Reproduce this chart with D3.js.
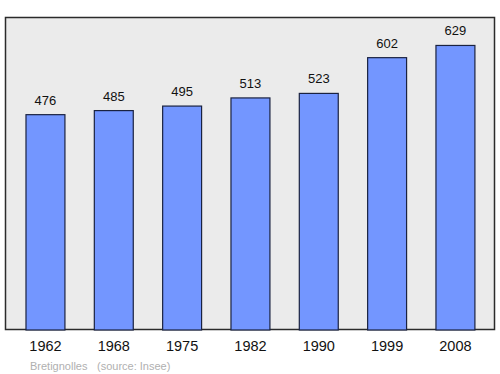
<!DOCTYPE html>
<html>
<head>
<meta charset="utf-8">
<script src="https://cdn.jsdelivr.net/npm/d3@7"></script>
<style>
  body { margin: 0; background: #fff; }
  text { font-family: "Liberation Sans", Arial, sans-serif; }
</style>
</head>
<body>
<div id="chart"></div>
<script>
var years = ["1962", "1968", "1975", "1982", "1990", "1999", "2008"];
var population = [476, 485, 495, 513, 523, 602, 629];
var townName = "Bretignolles";
var sourceNote = "(source: Insee)";

var width = 500, height = 374;

var svg = d3.select("#chart").append("svg")
    .attr("width", width)
    .attr("height", height);

// plot frame
svg.append("rect")
    .attr("x", 5.5)
    .attr("y", 17.5)
    .attr("width", 489)
    .attr("height", 312)
    .style("fill", "#ebebeb")
    .style("stroke", "#2b2b2b")
    .style("stroke-width", 1.5);

var x = d3.scaleBand()
    .domain(years)
    .range([11.3, 489.6])
    .paddingInner(0.43)
    .paddingOuter(0.215);

var y = d3.scaleLinear()
    .domain([0, d3.max(population) * 1.1])
    .range([330, 17]);

var data = years.map(function(d, i) { return { year: d, value: population[i] }; });

svg.selectAll(".bar")
    .data(data)
  .enter().append("rect")
    .attr("class", "bar")
    .attr("x", function(d) { return x(d.year); })
    .attr("y", function(d) { return y(d.value); })
    .attr("width", x.bandwidth())
    .attr("height", function(d) { return y(0) - y(d.value); })
    .style("fill", "#7396ff")
    .style("stroke", "#1a2240")
    .style("stroke-width", 1.2);

svg.selectAll(".val")
    .data(data)
  .enter().append("text")
    .attr("class", "val")
    .attr("x", function(d) { return x(d.year) + x.bandwidth() / 2; })
    .attr("y", function(d) { return y(d.value) - 10; })
    .attr("text-anchor", "middle")
    .style("font-size", "13px")
    .style("fill", "#111")
    .text(function(d) { return d.value; });

// year axis
var xAxis = svg.append("g")
    .attr("transform", "translate(0,330)")
    .call(d3.axisBottom(x).tickSize(0).tickPadding(11));
xAxis.select(".domain").remove();
xAxis.selectAll("text")
    .style("font-size", "14.5px")
    .style("font-family", "Liberation Sans, Arial, sans-serif")
    .style("fill", "#111");

svg.append("text")
    .attr("x", 30)
    .attr("y", 370)
    .style("font-size", "11px")
    .style("fill", "#b0b0b0")
    .text(townName);

svg.append("text")
    .attr("x", 97)
    .attr("y", 370)
    .style("font-size", "11px")
    .style("fill", "#b0b0b0")
    .text(sourceNote);
</script>
</body>
</html>
